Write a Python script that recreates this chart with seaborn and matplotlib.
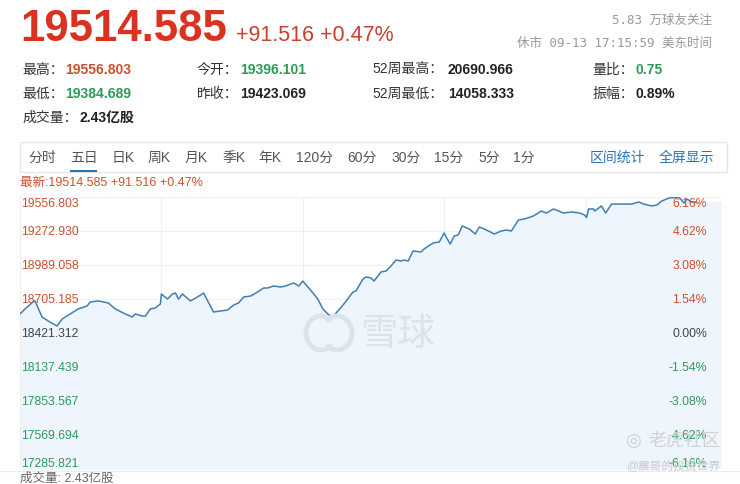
import matplotlib
matplotlib.use("Agg")
import matplotlib.pyplot as plt
import matplotlib.transforms as mtransforms
from matplotlib.patches import Rectangle, Arc
import seaborn as sns

# five-day intraday trace: time in trading days, index value
t = [0.000, 0.035, 0.092, 0.106, 0.156, 0.199, 0.262, 0.298, 0.355, 0.411,
     0.475, 0.496, 0.553, 0.624, 0.674, 0.745, 0.794, 0.816, 0.865, 0.887,
     0.922, 0.957, 0.993,
     1.000, 1.043, 1.078, 1.099, 1.121, 1.149, 1.206, 1.255, 1.298, 1.369,
     1.418, 1.468, 1.511, 1.546, 1.582, 1.631, 1.681, 1.723, 1.752, 1.794,
     1.844, 1.879, 1.936, 1.972,
     2.000, 2.078, 2.106, 2.142, 2.177, 2.213, 2.248, 2.291, 2.355, 2.376,
     2.426, 2.447, 2.482, 2.504, 2.553, 2.589, 2.624, 2.660, 2.695, 2.716,
     2.745, 2.780, 2.837, 2.858, 2.922, 2.965,
     3.000, 3.014, 3.043, 3.071, 3.099, 3.128, 3.177, 3.220, 3.248, 3.284,
     3.355, 3.404, 3.440, 3.475, 3.525, 3.567, 3.631, 3.688, 3.723, 3.773,
     3.844, 3.901, 3.957, 3.993,
     4.000, 4.007, 4.021, 4.057, 4.064, 4.113, 4.142, 4.184, 4.255, 4.326,
     4.376, 4.411, 4.468, 4.504, 4.539, 4.589, 4.660, 4.695, 4.716, 4.752,
     4.787]
price = [18580, 18622, 18680, 18689, 18555, 18522, 18480, 18538, 18580, 18622,
         18647, 18680, 18689, 18672, 18622, 18580, 18555, 18580, 18563, 18563,
         18622, 18630, 18664,
         18747, 18705, 18747, 18755, 18705, 18747, 18689, 18722, 18755, 18597,
         18605, 18613, 18655, 18672, 18722, 18730, 18764, 18797, 18797, 18814,
         18805, 18814, 18839, 18814,
         18855, 18747, 18705, 18622, 18580, 18555, 18605, 18664, 18764, 18772,
         18872, 18889, 18881, 18855, 18931, 18939, 18981, 19031, 19022, 19031,
         19022, 19106, 19098, 19123, 19173, 19181,
         19256, 19223, 19164, 19231, 19240, 19315, 19290, 19248, 19306, 19290,
         19248, 19273, 19281, 19273, 19365, 19373, 19398, 19440, 19423, 19457,
         19423, 19432, 19423, 19407,
         19396, 19385, 19457, 19457, 19440, 19482, 19423, 19498, 19498, 19498,
         19515, 19498, 19482, 19490, 19523, 19548, 19557, 19507, 19540, 19515,
         19514.585]

price_ticks = [19556.803, 19272.930, 18989.058, 18705.185, 18421.312,
               18137.439, 17853.567, 17569.694, 17285.821]
pct_ticks = ['6.16%', '4.62%', '3.08%', '1.54%', '0.00%',
             '-1.54%', '-3.08%', '-4.62%', '-6.16%']

row1 = [('最高：', '19556.803'), ('今开：', '19396.101'), ('52周最高：', '20690.966'), ('量比：', '0.75')]
row2 = [('最低：', '19384.689'), ('昨收：', '19423.069'), ('52周最低：', '14058.333'), ('振幅：', '0.89%')]
tabs = ['分时', '五日', '日K', '周K', '月K', '季K', '年K', '120分', '60分', '30分', '15分', '5分', '1分']

RED = '#c9512f'
GREEN = '#2e9a58'
DARK = '#222222'
BLUE = '#2a73b8'

sns.set_theme(style='white')
plt.rcParams['font.family'] = ['Liberation Sans', 'Noto Sans CJK SC', 'DejaVu Sans']

W, H = 740, 485
fig = plt.figure(figsize=(W / 100, H / 100), dpi=100)
fig.patch.set_facecolor('white')


def fx(x):
    return x / W


def fy(y):
    return 1 - y / H


# ---- header ----
fig.text(fx(20), fy(41), '19514.585', fontsize=31.5, fontweight='bold', color='#d9321e', va='baseline')
fig.text(fx(236), fy(41), '+91.516 +0.47%', fontsize=15.5, color='#c8412b', va='baseline')
fig.text(fx(712), fy(24), '5.83 万球友关注', fontsize=9, color='#999999', ha='right', va='baseline',
         family=['DejaVu Sans Mono', 'Noto Sans CJK SC'])
fig.text(fx(712), fy(47), '休市 09-13 17:15:59 美东时间', fontsize=9, color='#999999', ha='right', va='baseline',
         family=['DejaVu Sans Mono', 'Noto Sans CJK SC'])

col_x = [22, 197, 372, 592]
val_col1 = [RED, GREEN, DARK, GREEN]
val_col2 = [GREEN, DARK, DARK, DARK]
for row, yy, cols in [(row1, 70, val_col1), (row2, 94, val_col2)]:
    for (lab, val), x0, c in zip(row, col_x, cols):
        fig.text(fx(x0), fy(yy), lab, fontsize=10, color='#333333', va='center')
        off = 75 if lab.startswith('52') else 14 * len(lab)
        fig.text(fx(x0 + off + 1), fy(yy), val, fontsize=10,
                 fontweight='bold', color=c, va='center')
fig.text(fx(22), fy(118), '成交量：', fontsize=10, color='#333333', va='center')
fig.text(fx(80), fy(118), '2.43亿股', fontsize=10, fontweight='bold', color=DARK, va='center')

# ---- tab bar ----
fig.patches.append(Rectangle((fx(20), fy(173)), fx(707), 30 / H, transform=fig.transFigure,
                             facecolor='white', edgecolor='#e6e6e6', linewidth=1))
tab_x = [28, 70, 112, 148, 185, 222, 258, 296, 347, 391, 434, 478, 513]
for name, x0 in zip(tabs, tab_x):
    fig.text(fx(x0), fy(158), name, fontsize=10, color='#555555', va='center')
fig.patches.append(Rectangle((fx(70), fy(173)), fx(27), 2.5 / H, transform=fig.transFigure,
                             facecolor=BLUE, edgecolor='none'))
fig.text(fx(590), fy(158), '区间统计', fontsize=10, color=BLUE, va='center')
fig.text(fx(659), fy(158), '全屏显示', fontsize=10, color=BLUE, va='center')
fig.text(fx(20), fy(183), '最新:19514.585 +91.516 +0.47%', fontsize=9, color='#d0502d', va='center')

# ---- price chart ----
ax = fig.add_axes([fx(20), fy(470), 702 / W, 272 / H])
ymin, ymax = price_ticks[-1], price_ticks[0]
xmax = 4.965
ax.set_xlim(0, xmax)
ax.set_ylim(ymin, ymax)
for s in ax.spines.values():
    s.set_visible(False)
ax.set_xticks([])
ax.set_yticks([])

for p in price_ticks[:-1]:
    ax.axhline(p, color='#f0f0f0', linewidth=0.8, zorder=0)
for d in [0, 1, 2, 3, 4]:
    ax.axvline(d, color='#f0f0f0', linewidth=0.8, zorder=0)

ax.fill_between(t, price, ymin, color='#eef5fd', linewidth=0, zorder=1)
ax.fill_between([t[-1], xmax], [price[-1], price[-1]], ymin, color='#eef5fd', linewidth=0, zorder=1)
sns.lineplot(x=t, y=price, ax=ax, color='#3f7fb3', linewidth=1.1, zorder=3, sort=False)
ax.set_xlabel('')
ax.set_ylabel('')

# watermark
fig.text(fx(398), fy(334), '雪球', fontsize=27, color='#dde3ea', ha='center', va='center',
         family=['Noto Sans CJK SC'], zorder=2)
fig.patches.append(Arc((fx(321), fy(334)), 30 / W, 34 / H, theta1=60, theta2=300,
                       transform=fig.transFigure, color='#dde3ea', linewidth=3.5))
fig.patches.append(Arc((fx(337), fy(334)), 30 / W, 34 / H, theta1=240, theta2=480,
                       transform=fig.transFigure, color='#dde3ea', linewidth=3.5))

trans = mtransforms.blended_transform_factory(ax.transAxes, ax.transData)
n = len(price_ticks)
for i, (p, lab) in enumerate(zip(price_ticks, pct_ticks)):
    c = RED if i < 4 else ('#444444' if i == 4 else GREEN)
    va = 'top' if i == 0 else ('bottom' if i == n - 1 else 'center')
    ax.text(0.002, p, f'{p:.3f}', transform=trans, fontsize=8.8, color=c, va=va, ha='left', zorder=4)
    ax.text(0.9786, p, lab, transform=trans, fontsize=8.8, color=c, va=va, ha='right', zorder=4)

# bottom strip
fig.lines.append(plt.Line2D([0, 1], [fy(472), fy(472)], transform=fig.transFigure,
                            color='#ececec', linewidth=0.8))
fig.text(fx(20), fy(479), '成交量: 2.43亿股', fontsize=9, color='#666666', va='center')

# tiger community watermark
fig.text(fx(633), fy(441), '◎', fontsize=13, color='#cfcfcf', ha='center', va='center',
         family=['DejaVu Sans'])
fig.text(fx(648), fy(441), '老虎社区', fontsize=13, color='#d2d2d2', va='center')
fig.text(fx(626), fy(466), '@震哥的投资世界', fontsize=8.5, color='#cccccc', va='center')

fig.savefig('out.png', dpi=100, facecolor='white')
